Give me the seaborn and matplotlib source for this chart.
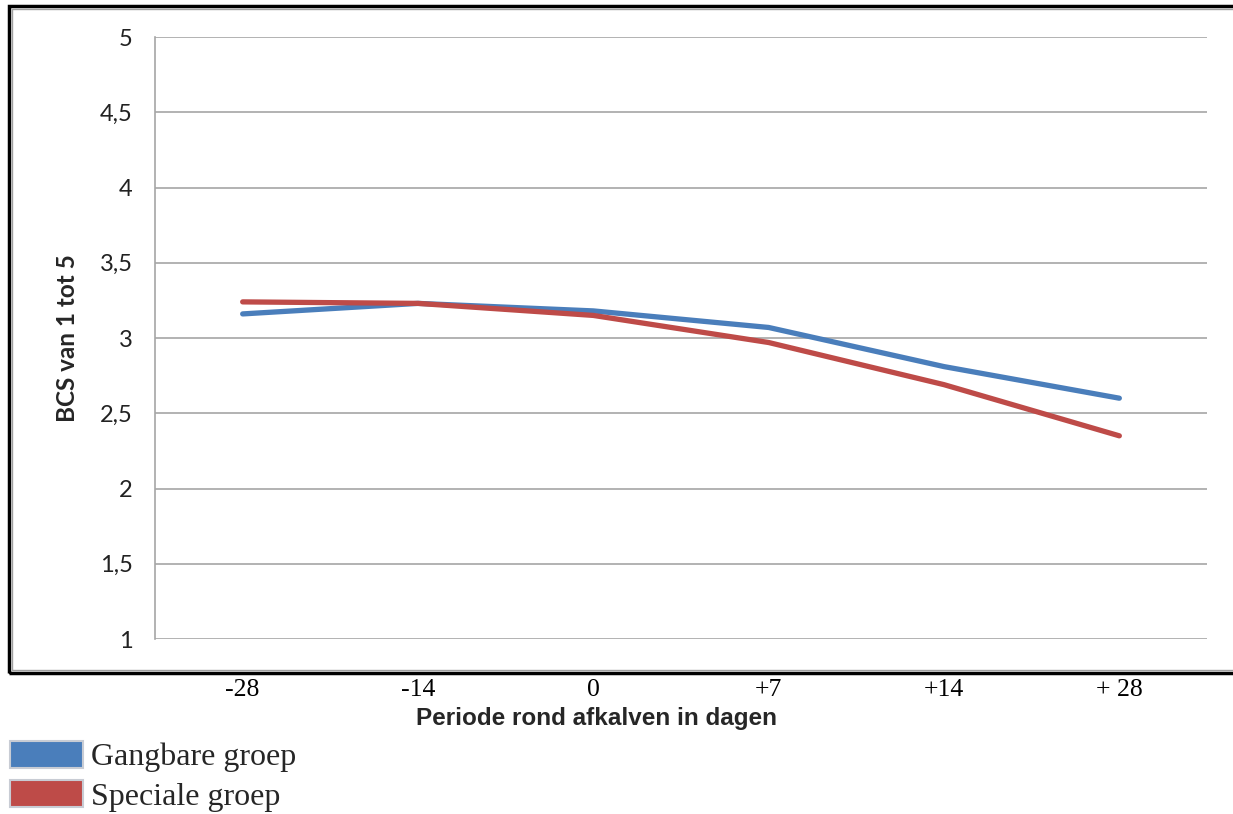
import matplotlib
matplotlib.use("Agg")
import matplotlib.pyplot as plt
import seaborn as sns
import pandas as pd
from matplotlib.patches import Rectangle, Patch

categories = ["-28", "-14", "0", "+7", "+14", "+ 28"]
gangbare = [3.16, 3.23, 3.18, 3.07, 2.81, 2.60]
speciale = [3.24, 3.23, 3.15, 2.97, 2.69, 2.35]
series_names = ["Gangbare groep", "Speciale groep"]
colors = ["#4A7EBB", "#BE4B48"]
y_ticks = [1, 1.5, 2, 2.5, 3, 3.5, 4, 4.5, 5]
y_tick_labels = ["1", "1,5", "2", "2,5", "3", "3,5", "4", "4,5", "5"]

df = pd.DataFrame({
    "periode": categories * 2,
    "bcs": gangbare + speciale,
    "groep": [series_names[0]] * len(categories) + [series_names[1]] * len(categories),
})

sns.set_theme(style="white")
W, H = 1233, 814
fig = plt.figure(figsize=(W / 100, H / 100), dpi=100)
ax = fig.add_axes([155 / W, 1 - 639 / H, (1207 - 155) / W, (639 - 37) / H])

sns.lineplot(data=df, x="periode", y="bcs", hue="groep", palette=colors,
             linewidth=3.8, ax=ax, legend=False, sort=False)
for ln in ax.lines:
    ln.set_solid_capstyle("round")
    ln.set_solid_joinstyle("round")

ax.set_xlim(-0.5, len(categories) - 0.5)
ax.set_ylim(1, 5)
ax.set_yticks(y_ticks)
ax.set_yticklabels(y_tick_labels, fontfamily="Lato", fontsize=17, color="#222222")
ax.set_xticks(range(len(categories)))
ax.set_xticklabels(categories, fontfamily="Liberation Serif", fontsize=18.5, color="black")
ax.tick_params(axis="y", length=0, pad=16)
ax.tick_params(axis="x", length=0, pad=29)
ax.yaxis.grid(True, color="#a6a6a6", linewidth=1.2)
ax.xaxis.grid(False)
for s in ["top", "right", "bottom"]:
    ax.spines[s].set_visible(False)
ax.spines["left"].set_color("#a6a6a6")
ax.spines["left"].set_linewidth(1.2)

ax.set_ylabel("BCS van 1 tot 5", fontfamily="Lato", fontweight="bold", fontsize=17.5)
ax.yaxis.set_label_coords(-(155 - 79) / 1052, 0.5)
ax.set_xlabel("Periode rond afkalven in dagen", fontfamily="Liberation Sans",
              fontweight="bold", fontsize=17.5)
ax.xaxis.set_label_coords((597 - 155) / 1052, -(707 - 639) / 602)

# outer frame (black) with inner grey line
fig.add_artist(Rectangle((9 / W, 1 - 673 / H), (1240 - 9) / W, (673 - 6) / H,
                         transform=fig.transFigure, fill=False, edgecolor="black",
                         linewidth=2.5, clip_on=False))
fig.add_artist(Rectangle((12 / W, 1 - 670 / H), (1240 - 12) / W, (670 - 9) / H,
                         transform=fig.transFigure, fill=False, edgecolor="#a0a0a0",
                         linewidth=1.0, clip_on=False))

handles = [Patch(facecolor=c, edgecolor="#c8ccd4", linewidth=1.5, label=n)
           for c, n in zip(colors, series_names)]
fig.legend(handles=handles, loc="upper left", bbox_to_anchor=(10 / W, 1 - 741 / H),
           frameon=False, prop={"family": "Liberation Serif", "size": 23},
           handlelength=2.3, handleheight=0.9, handletextpad=0.25, labelspacing=0.25,
           borderpad=0.0, borderaxespad=0)

fig.savefig("out.png", dpi=100)
